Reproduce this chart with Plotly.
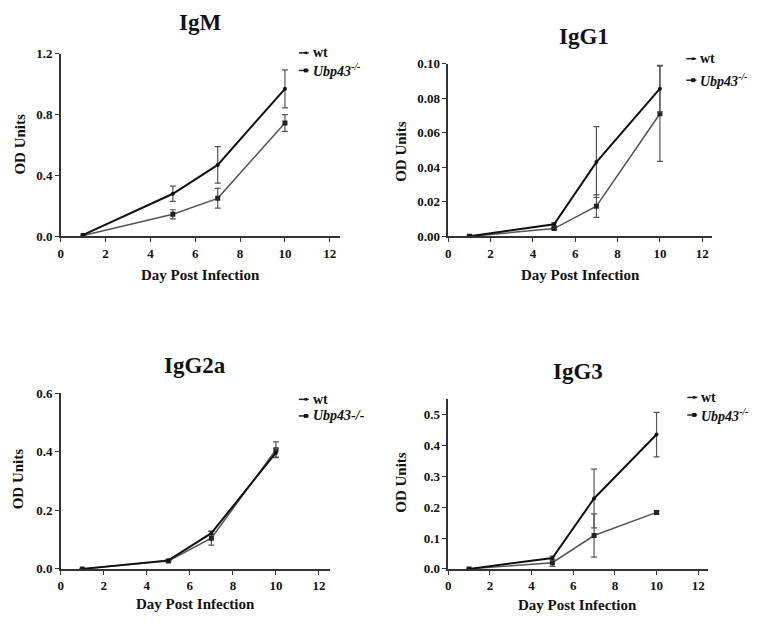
import plotly.graph_objects as go

W, H = 761, 625
FONT = "Liberation Serif, Times New Roman, serif"

days = [1, 5, 7, 10]
panel_titles = ["IgM", "IgG1", "IgG2a", "IgG3"]

# IgM
igm_wt = [0.01, 0.28, 0.47, 0.97]
igm_wt_err = [0.0, 0.05, 0.12, 0.125]
igm_ko = [0.005, 0.145, 0.25, 0.745]
igm_ko_err = [0.0, 0.03, 0.065, 0.055]
# IgG1
igg1_wt = [0.0, 0.007, 0.043, 0.0855]
igg1_wt_err = [0.0, 0.0008, 0.0205, 0.0135]
igg1_ko = [0.0, 0.0045, 0.0175, 0.071]
igg1_ko_err = [0.0, 0.0006, 0.0065, 0.0276]
# IgG2a
igg2a_wt = [0.0, 0.029, 0.122, 0.397]
igg2a_wt_err = [0.0, 0.002, 0.006, 0.015]
igg2a_ko = [0.0, 0.027, 0.105, 0.407]
igg2a_ko_err = [0.0, 0.002, 0.024, 0.027]
# IgG3
igg3_wt = [0.0, 0.035, 0.228, 0.435]
igg3_wt_err = [0.0, 0.006, 0.095, 0.072]
igg3_ko = [0.0, 0.02, 0.108, 0.183]
igg3_ko_err = [0.0, 0.012, 0.07, 0.005]

x_ticks = [0, 2, 4, 6, 8, 10, 12]
y_ticks = [[0.0, 0.4, 0.8, 1.2], [0.0, 0.02, 0.04, 0.06, 0.08, 0.10],
           [0.0, 0.2, 0.4, 0.6], [0.0, 0.1, 0.2, 0.3, 0.4, 0.5]]
y_tick_text = [["0.0", "0.4", "0.8", "1.2"],
               ["0.00", "0.02", "0.04", "0.06", "0.08", "0.10"],
               ["0.0", "0.2", "0.4", "0.6"],
               ["0.0", "0.1", "0.2", "0.3", "0.4", "0.5"]]
y_ranges = [[0, 1.2], [0, 0.10], [0, 0.6], [0, 0.55]]
x_ranges = [[0, 12.44], [0, 12.47], [0, 12.5], [0, 12.48]]
ko_labels = ["<b><i>Ubp43<sup>-/-</sup></i></b>", "<b><i>Ubp43<sup>-/-</sup></i></b>",
             "<b><i>Ubp43-/-</i></b>", "<b><i>Ubp43<sup>-/-</sup></i></b>"]

series = [(igm_wt, igm_wt_err, igm_ko, igm_ko_err),
          (igg1_wt, igg1_wt_err, igg1_ko, igg1_ko_err),
          (igg2a_wt, igg2a_wt_err, igg2a_ko, igg2a_ko_err),
          (igg3_wt, igg3_wt_err, igg3_ko, igg3_ko_err)]

# layout geometry in pixels: (x_left, x_right, y_bottom, y_top)
boxes = [(58, 338, 235, 48), (447, 712, 235, 58),
         (58, 328, 575.7, 395.7), (447, 708, 575.7, 401.7)]
title_pos = [(198, 16), (583, 30), (193, 367), (577, 373)]
xtitle_pos = [(198, 275), (580, 275), (193, 612), (577, 613)]
ytitle_pos = [(17, 140), (400, 148), (15, 483), (400, 487)]
legend_pos = [(297, 47, 65), (686, 53, 75), (297, 402, 419), (687, 400, 418)]

def px(x):
    return x / W

def py(y):
    return 1 - y / H

fig = go.Figure()
annotations = []
shapes = []
WT_COL = "#111111"
KO_COL = "#555555"

for i in range(4):
    sfx = "" if i == 0 else str(i + 1)
    wt, wte, ko, koe = series[i]
    fig.add_trace(go.Scatter(
        x=days, y=ko, mode="lines+markers", xaxis="x" + sfx, yaxis="y" + sfx,
        line=dict(color=KO_COL, width=1.5),
        marker=dict(symbol="square", size=5, color="#222222"),
        error_y=dict(type="data", array=koe, visible=True, color=KO_COL, thickness=1.2, width=3),
        showlegend=False))
    fig.add_trace(go.Scatter(
        x=days, y=wt, mode="lines+markers", xaxis="x" + sfx, yaxis="y" + sfx,
        line=dict(color=WT_COL, width=2),
        marker=dict(symbol="circle", size=4, color=WT_COL),
        error_y=dict(type="data", array=wte, visible=True, color=KO_COL, thickness=1.2, width=3),
        showlegend=False))

    xl, xr, yb, yt = boxes[i]
    axfont = dict(family=FONT, size=13, color="#111")
    fig.layout["xaxis" + sfx] = dict(
        domain=[px(xl), px(xr)], range=x_ranges[i], anchor="y" + sfx,
        tickvals=x_ticks, ticktext=["<b>%d</b>" % v for v in x_ticks],
        ticks="outside", ticklen=4, tickwidth=1.2, tickcolor="#333",
        showline=True, linecolor="#333", linewidth=1.5, showgrid=False, zeroline=False,
        tickfont=axfont, fixedrange=True)
    fig.layout["yaxis" + sfx] = dict(
        domain=[py(yb), py(yt)], range=y_ranges[i], anchor="x" + sfx,
        tickvals=y_ticks[i], ticktext=["<b>%s</b>" % t for t in y_tick_text[i]],
        ticks="outside", ticklen=4, tickwidth=1.2, tickcolor="#333",
        showline=True, linecolor="#333", linewidth=1.5, showgrid=False, zeroline=False,
        tickfont=axfont, fixedrange=True)

    tx, ty = title_pos[i]
    annotations.append(dict(x=px(tx), y=py(ty), xref="paper", yref="paper",
                            text="<b>%s</b>" % panel_titles[i], showarrow=False,
                            font=dict(family=FONT, size=23, color="#111"),
                            xanchor="center", yanchor="middle"))
    ax_, ay_ = xtitle_pos[i]
    annotations.append(dict(x=px(ax_), y=py(ay_), xref="paper", yref="paper",
                            text="<b>Day Post Infection</b>", showarrow=False,
                            font=dict(family=FONT, size=15, color="#111"),
                            xanchor="center", yanchor="middle"))
    yx, yy = ytitle_pos[i]
    annotations.append(dict(x=px(yx), y=py(yy), xref="paper", yref="paper",
                            text="<b>OD Units</b>", showarrow=False, textangle=-90,
                            font=dict(family=FONT, size=15, color="#111"),
                            xanchor="center", yanchor="middle"))
    # legend
    lx, ly1, ly2 = legend_pos[i]
    for (ly, lab, sym) in [(ly1, "<b>wt</b>", "dot"), (ly2, ko_labels[i], "sq")]:
        shapes.append(dict(type="line", xref="paper", yref="paper",
                           x0=px(lx), x1=px(lx + 10), y0=py(ly), y1=py(ly),
                           line=dict(color="#222", width=1.5)))
        r = 1.3 if sym == "dot" else 2
        shapes.append(dict(type="rect", xref="paper", yref="paper",
                           x0=px(lx + 7 - r), x1=px(lx + 7 + r), y0=py(ly - r), y1=py(ly + r),
                           fillcolor="#111", line=dict(width=0)))
        annotations.append(dict(x=px(lx + 12), y=py(ly), xref="paper", yref="paper",
                                text=lab, showarrow=False, xanchor="left", yanchor="middle",
                                font=dict(family=FONT, size=14, color="#111")))

fig.update_layout(width=W, height=H, margin=dict(l=0, r=0, t=0, b=0),
                  plot_bgcolor="white", paper_bgcolor="white",
                  annotations=annotations, shapes=shapes, showlegend=False)

fig.write_html("out.html", config={"displayModeBar": False},
               post_script="document.body.style.margin='0';document.body.style.padding='0';")
